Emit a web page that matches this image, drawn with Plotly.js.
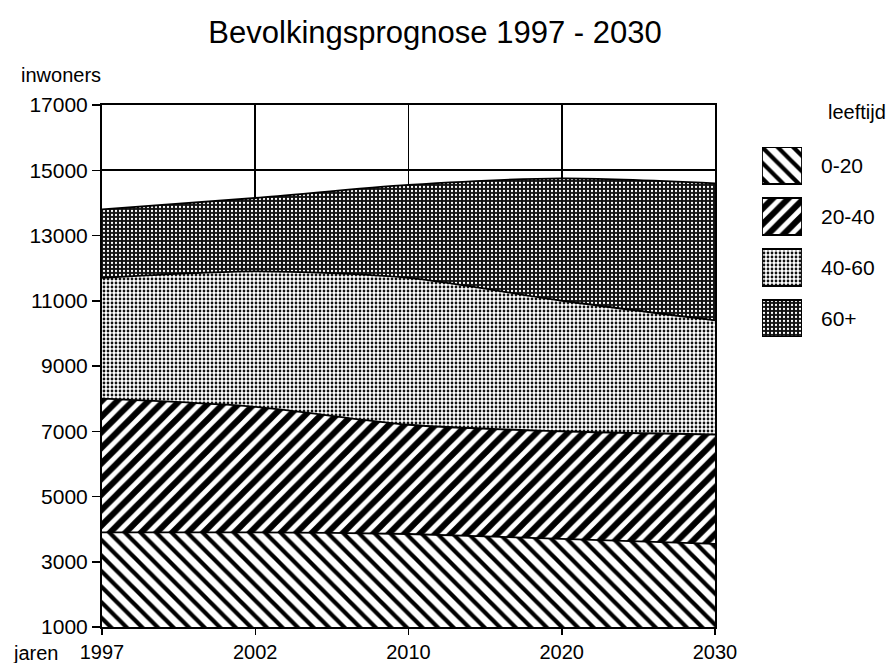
<!DOCTYPE html>
<html>
<head>
<meta charset="utf-8">
<script src="https://cdn.plot.ly/plotly-3.0.1.min.js"></script>
<style>html,body{margin:0;padding:0;background:#fff;}#chart{width:892px;height:663px;}</style>
</head>
<body>
<div id="chart"></div>
<script>
// ---- data ----
const years = ['1997', '2002', '2010', '2020', '2030'];
const groups = ['0-20', '20-40', '40-60', '60+'];
const age0_20  = [3900, 3900, 3850, 3700, 3550];
const age20_40 = [4100, 3850, 3350, 3300, 3350];
const age40_60 = [3700, 4150, 4500, 4000, 3500];
const age60p   = [2100, 2250, 2850, 3750, 4200];
const yTicks = [1000, 3000, 5000, 7000, 9000, 11000, 13000, 15000, 17000];

// ---- styles ----
const FONT = 'Liberation Sans, Arial, Helvetica, sans-serif';
const patterns = [
  {shape: '\\', size: 11, solidity: 0.38, fgcolor: '#000', bgcolor: '#fff', fillmode: 'replace'},
  {shape: '/',  size: 11, solidity: 0.55, fgcolor: '#000', bgcolor: '#fff', fillmode: 'replace'},
  {shape: '.',  size: 4,  solidity: 0.38, fgcolor: '#111', bgcolor: '#fff', fillmode: 'replace'},
  {shape: '.',  size: 4,  solidity: 0.25, fgcolor: '#fff', bgcolor: '#111', fillmode: 'replace'}
];
const series = [age0_20, age20_40, age40_60, age60p];

const traces = series.map((vals, i) => ({
  type: 'scatter', mode: 'lines', x: years, y: vals, name: groups[i],
  stackgroup: 'one', fill: i === 0 ? 'tozeroy' : 'tonexty',
  line: {color: '#000', width: 1.8, shape: 'spline', smoothing: 0.8},
  fillpattern: patterns[i], fillcolor: patterns[i].bgcolor,
  showlegend: false, hoverinfo: 'skip'
}));

// custom legend boxes (drawn in a separate small axis pair)
const boxH = 0.725;
groups.forEach((g, i) => {
  traces.push({
    type: 'scatter', mode: 'lines', xaxis: 'x2', yaxis: 'y2',
    x: [0, 1, 1, 0, 0], y: [-i, -i, -i - boxH, -i - boxH, -i],
    fill: 'toself', fillpattern: patterns[i], fillcolor: patterns[i].bgcolor,
    line: {color: '#000', width: 1.8}, showlegend: false, hoverinfo: 'skip'
  });
});

const W = 892 - 102 - 10;
const legendAnn = groups.map((g, i) => ({
  text: g, xref: 'x2', yref: 'y2', x: 1, y: -i - boxH / 2,
  xanchor: 'left', yanchor: 'middle', xshift: 17, showarrow: false,
  font: {family: FONT, size: 21, color: '#000'}
}));

const layout = {
  width: 892, height: 663,
  margin: {l: 102, r: 10, t: 105, b: 36},
  paper_bgcolor: '#fff', plot_bgcolor: '#fff',
  font: {family: FONT, size: 21, color: '#000'},
  title: {text: 'Bevolkingsprognose 1997 - 2030', xref: 'container', x: 435 / 892,
          xanchor: 'center', y: 1 - 32 / 663, yanchor: 'middle',
          font: {family: FONT, size: 31, color: '#000'}},
  xaxis: {
    type: 'category', range: [0, 4], domain: [0, 613 / W],
    showgrid: true, gridcolor: '#000', gridwidth: 1.8,
    showline: true, linecolor: '#000', linewidth: 2, mirror: true,
    ticks: 'outside', ticklen: 6, tickcolor: '#000', tickwidth: 1.5,
    tickfont: {family: FONT, size: 20, color: '#000'}, zeroline: false, fixedrange: true
  },
  yaxis: {
    range: [1000, 17000], tickvals: yTicks, ticktext: yTicks.map(String),
    showgrid: true, gridcolor: '#000', gridwidth: 1.8,
    showline: true, linecolor: '#000', linewidth: 2, mirror: true,
    ticks: 'outside', ticklen: 8, tickcolor: '#000', tickwidth: 1.5,
    tickfont: {family: FONT, size: 21, color: '#000'}, zeroline: false, fixedrange: true
  },
  xaxis2: {domain: [(762 - 102) / W, (802 - 102) / W], range: [0, 1], anchor: 'y2',
           visible: false, fixedrange: true},
  yaxis2: {domain: [(627 - 337) / 522, (627 - 147) / 522], range: [-3 - boxH, 0], anchor: 'x2',
           visible: false, fixedrange: true},
  annotations: [
    {text: 'inwoners', xref: 'paper', yref: 'paper', x: (61 - 102) / W, y: (627 - 75) / 522,
     xanchor: 'center', yanchor: 'middle', showarrow: false, font: {family: FONT, size: 20, color: '#000'}},
    {text: 'jaren', xref: 'paper', yref: 'paper', x: (35 - 102) / W, y: (627 - 653) / 522,
     xanchor: 'center', yanchor: 'middle', showarrow: false, font: {family: FONT, size: 20, color: '#000'}},
    {text: 'leeftijd', xref: 'paper', yref: 'paper', x: (857 - 102) / W, y: (627 - 112) / 522,
     xanchor: 'center', yanchor: 'middle', showarrow: false, font: {family: FONT, size: 20, color: '#000'}}
  ].concat(legendAnn),
  showlegend: false
};

Plotly.newPlot('chart', traces, layout, {displayModeBar: false, staticPlot: true});
</script>
</body>
</html>
